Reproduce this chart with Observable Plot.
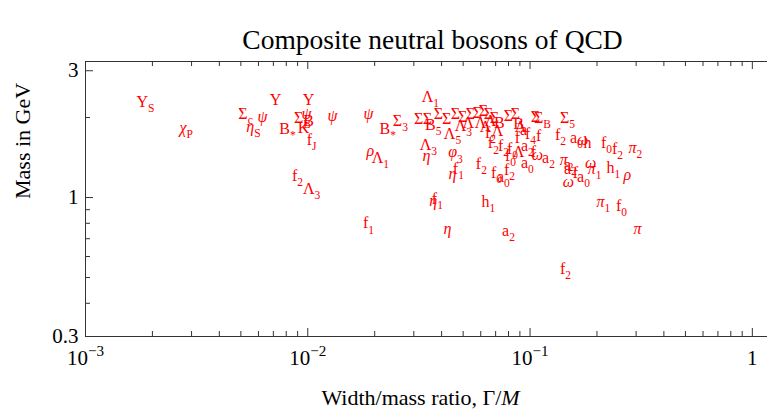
<!DOCTYPE html>
<html><head><meta charset="utf-8">
<script src="https://cdn.jsdelivr.net/npm/d3@7"></script>
<script src="https://cdn.jsdelivr.net/npm/@observablehq/plot@0.6"></script>
<style>html,body{margin:0;padding:0;background:#fff} svg{display:block} svg text{font-family:"Liberation Serif","DejaVu Serif",serif !important}</style>
</head><body><div id="chart"></div>
<script>
// ---- data (label, width/mass ratio, mass in GeV) ----
const labels = [
 "Υ_S","χ_P","Σ_c","η_S","ψ","Υ","B_*","Υ","Σ_B","ψ","K","B","f_J","ψ","ψ","B_*","Σ_3","ρ","Λ_1","f_2","Λ_3","f_1","Λ_1",
 "Σ","Σ","B_5","Σ","Σ","Λ_5","Σ","Σ","Σ","Λ","Λ_3","Σ","Σ","Σ","Λ","Λ","Σ","B","Σ","Σ","B","Λ","f_2","Λ","f_2","f","a","Λ","f_4","f","Σ","Σ_B","Σ_5",
 "f_2","a_0","ω","h","f_0","f_2","π_2","φ_3","Λ_3","η","f_0","Λ","a_0","f","ω","a_2","π_2","a_2","ω","a","f","a_0","π_1","h_1","ρ","ω",
 "f_2","f_0","a_0","f_2","η","f_1","η","f_1","h_1","η","a_2","f_2","π_1","f_0","π","f_0","a_2","f_2"
];
const widthRatio = [
 0.00186,0.00284,0.00525,0.00570,0.00625,0.00716,0.00811,0.01007,0.00946,0.00987,0.00957,0.01007,0.0104,0.01291,0.01875,0.0229,0.0261,0.0191,0.0212,0.00899,0.0104,0.01875,0.0356,
 0.0315,0.0345,0.0367,0.0387,0.0421,0.0448,0.0462,0.0497,0.0539,0.0528,0.0501,0.0580,0.0617,0.0650,0.0598,0.0664,0.0692,0.0728,0.0800,0.0859,0.0887,0.0630,0.0664,0.0714,0.0759,0.0877,0.0934,0.0906,0.1005,0.1092,0.1057,0.1137,0.1473,
 0.1370,0.1618,0.1722,0.1812,0.2207,0.2473,0.2979,0.0462,0.0349,0.0342,0.0816,0.0887,0.0973,0.1035,0.1080,0.1210,0.1459,0.1520,0.1871,0.1473,0.1600,0.1739,0.1950,0.2373,0.2742,0.1489,
 0.0604,0.0706,0.0759,0.0808,0.0448,0.0476,0.0367,0.0383,0.0650,0.0425,0.0800,0.1443,0.2138,0.2577,0.3042,0.0834,0.0973,0.0684
];
const massGeV = [
 2.29,1.83,2.07,1.85,2.01,2.33,1.82,2.33,2.00,2.07,1.83,1.94,1.65,2.03,2.07,1.82,1.94,1.50,1.41,1.21,1.08,0.80,2.39,
 1.98,1.98,1.88,2.07,1.98,1.74,2.07,2.01,2.07,1.91,1.86,2.08,2.12,2.07,1.91,1.94,2.00,1.91,2.03,2.07,1.90,1.85,1.75,1.78,1.57,1.68,1.80,1.85,1.74,1.71,2.01,2.00,2.00,
 1.72,1.68,1.65,1.61,1.61,1.53,1.54,1.48,1.58,1.44,1.43,1.48,1.35,1.48,1.45,1.41,1.38,1.33,1.35,1.28,1.24,1.20,1.28,1.29,1.22,1.15,
 1.34,1.24,1.20,1.27,1.23,1.28,0.97,0.99,0.96,0.76,0.75,0.54,0.96,0.93,0.76,1.53,1.57,1.60
];

// ---- axes ----
const xMajorTicks = [1e-3, 1e-2, 1e-1, 1];
const xTickLabels = ["10^−3", "10^−2", "10^−1", "1"];
const xMinorTicks = [2e-3,3e-3,4e-3,5e-3,6e-3,7e-3,8e-3,9e-3, 2e-2,3e-2,4e-2,5e-2,6e-2,7e-2,8e-2,9e-2, 0.2,0.3,0.4,0.5,0.6,0.7,0.8,0.9];
const yMajorTicks = [0.3, 1, 3];
const yTickLabels = ["0.3", "1", "3"];
const yMinorTicks = [0.4,0.5,0.6,0.7,0.8,0.9,2];
const title = "Composite neutral bosons of QCD";
const xTitle = "Width/mass ratio, Γ/~M~";
const yTitle = "Mass in GeV";

const data = labels.map((l, i) => ({label: l, x: widthRatio[i], y: massGeV[i]}));

const W = 767, H = 414, mL = 85, mT = 61, mB = 78;
const fh = H - mT - mB, fw = W - mL;
const ax = "#333";
const ff = "'Liberation Serif', 'DejaVu Serif', serif";
const chart = Plot.plot({
  width: W, height: H, marginLeft: mL, marginRight: 0, marginTop: mT, marginBottom: mB,
  style: {fontFamily: ff, background: "white", color: "#000", overflow: "visible"},
  x: {type: "log", domain: [1e-3, 1.17], axis: null},
  y: {type: "log", domain: [0.3, 3.25], axis: null},
  marks: [
    Plot.ruleX([1e-3], {stroke: ax}),
    Plot.ruleY([0.3, 3.25], {stroke: ax}),
    Plot.ruleX(xMajorTicks, {insetTop: fh - 8, stroke: ax}),
    Plot.ruleX(xMajorTicks, {insetBottom: fh - 8, stroke: ax}),
    Plot.ruleX(xMinorTicks, {insetTop: fh - 5, stroke: ax}),
    Plot.ruleX(xMinorTicks, {insetBottom: fh - 5, stroke: ax}),
    Plot.ruleY(yMajorTicks, {insetRight: fw - 8, stroke: ax}),
    Plot.ruleY(yMinorTicks, {insetRight: fw - 5, stroke: ax}),
    Plot.text(xMajorTicks, {x: d => d, frameAnchor: "bottom", lineAnchor: "middle", dy: 22, text: (d, i) => xTickLabels[i], fontSize: 21, fontFamily: ff}),
    Plot.text(yMajorTicks, {y: d => d, frameAnchor: "left", lineAnchor: "middle", dx: -7, textAnchor: "end", text: (d, i) => yTickLabels[i], fontSize: 21, fontFamily: ff}),
    Plot.text([title], {frameAnchor: "top", lineAnchor: "middle", dy: -21, dx: 6, fontSize: 27.5, fontFamily: ff}),
    Plot.text([xTitle], {frameAnchor: "bottom", lineAnchor: "middle", dy: 61, dx: -6, fontSize: 22, fontFamily: ff}),
    Plot.text([yTitle], {frameAnchor: "left", lineAnchor: "middle", dx: -63, rotate: -90, fontSize: 22, fontFamily: ff}),
    Plot.text(data, {x: "x", y: "y", text: "label", fill: "red", fontSize: 16, fontFamily: ff})
  ]
});
document.getElementById("chart").appendChild(chart);

// rich text: _sub, ^sup, ~italic~, lowercase greek italic
const greekItalic = /[ψηχρωφπ]/;
chart.querySelectorAll("text").forEach(t => {
  const s = t.textContent;
  if (!/[_^~ψηχρωφπ]/.test(s)) return;
  const fs = parseFloat(getComputedStyle(t).fontSize) || 15;
  const parts = s.split(/(~[^~]+~|_[^_^~]+|\^[^_^~]+)/).filter(p => p.length);
  while (t.firstChild) t.removeChild(t.firstChild);
  let shift = 0;
  const NS = "http://www.w3.org/2000/svg";
  for (const p of parts) {
    let txt = p, size = null, target = 0, italic = false;
    if (p[0] === "~") { txt = p.slice(1, -1); italic = true; }
    else if (p[0] === "_") { txt = p.slice(1); size = fs * 0.72; target = fs * 0.32; }
    else if (p[0] === "^") { txt = p.slice(1); size = fs * 0.72; target = -fs * 0.45; }
    const chunks = (p[0] === "~") ? [txt] : txt.split(/([ψηχρωφπ]+)/).filter(c => c.length);
    let first = true;
    for (const c of chunks) {
      const ts = document.createElementNS(NS, "tspan");
      ts.textContent = c;
      if (size) ts.setAttribute("font-size", size);
      if (italic || greekItalic.test(c)) ts.setAttribute("font-style", "italic");
      if (first && target !== shift) { ts.setAttribute("dy", target - shift); shift = target; }
      first = false;
      t.appendChild(ts);
    }
  }
});
</script>
</body></html>
